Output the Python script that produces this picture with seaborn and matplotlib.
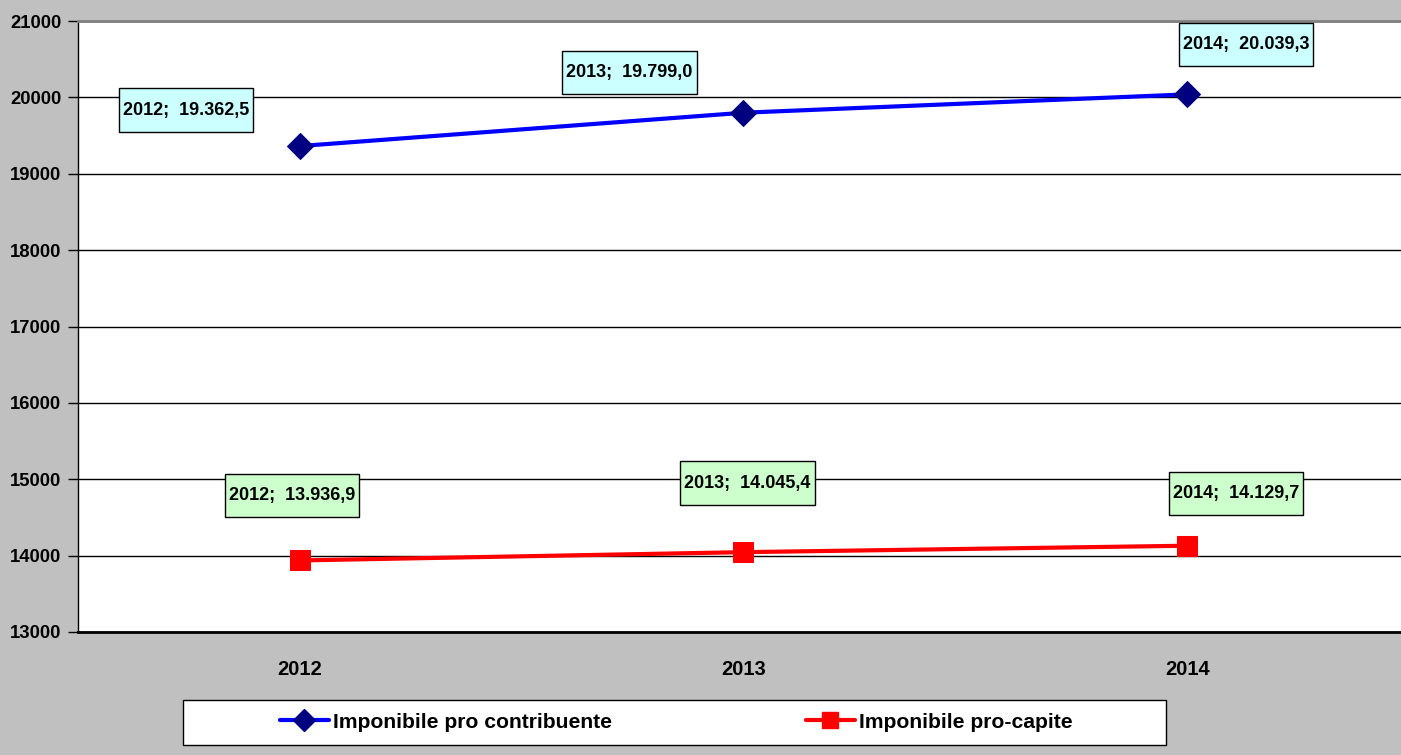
import pandas as pd
import matplotlib.pyplot as plt
import seaborn as sns
from matplotlib.lines import Line2D
from matplotlib.patches import Rectangle
from matplotlib.path import Path

# values
anni = ['2012', '2013', '2014']
pro_contribuente = [19362.5, 19799.0, 20039.3]
pro_capite = [13936.9, 14045.4, 14129.7]
y_ticks = [13000, 14000, 15000, 16000, 17000, 18000, 19000, 20000, 21000]

FONT = ['Liberation Sans', 'DejaVu Sans']


def fmt_it(v):
    s = f"{v:,.1f}"
    return s.replace(',', 'X').replace('.', ',').replace('X', '.')


# excel-like label box: little side padding, more on top/bottom
def label_box(x0, y0, width, height, mutation_size):
    px = 0.22 * mutation_size
    h = 2.4 * mutation_size
    cy = y0 + height / 2
    x1, x2 = x0 - px, x0 + width + px
    y1, y2 = cy - h / 2, cy + h / 2
    return Path([(x1, y1), (x2, y1), (x2, y2), (x1, y2), (x1, y1)], closed=True)


def main():
    sns.set_style('white')
    plt.rcParams['font.family'] = FONT
    plt.rcParams['font.weight'] = 'bold'
    plt.rcParams['text.color'] = 'black'
    plt.rcParams['xtick.color'] = 'black'
    plt.rcParams['ytick.color'] = 'black'
    plt.rcParams['xtick.labelcolor'] = 'black'
    plt.rcParams['ytick.labelcolor'] = 'black'

    df = pd.DataFrame({'pos': range(len(anni)), 'anno': anni,
                       'contribuente': pro_contribuente,
                       'capite': pro_capite})

    W, H = 1401, 755
    fig = plt.figure(figsize=(W / 100, H / 100), dpi=100, facecolor='#C0C0C0')
    ax = fig.add_axes([78 / W, (H - 632) / H, (W - 78) / W, (632 - 21) / H])
    ax.set_facecolor('white')

    sns.lineplot(data=df, x='pos', y='contribuente', ax=ax, color='#0000FF',
                 linewidth=3, marker='D', markersize=13,
                 markerfacecolor='#000080', markeredgecolor='#000080', zorder=3)
    sns.lineplot(data=df, x='pos', y='capite', ax=ax, color='#FF0000',
                 linewidth=3, marker='s', markersize=14,
                 markerfacecolor='#FF0000', markeredgecolor='#FF0000', zorder=3)

    ax.set_ylim(13000, 21000)
    ax.set_xlim(-0.5, 2.482)
    ax.set_yticks(y_ticks)
    ax.set_yticklabels([str(t) for t in y_ticks], fontsize=13.3, fontweight='bold')
    ax.set_xticks(df['pos'])
    ax.set_xticklabels(anni, fontsize=14.5, fontweight='bold')
    ax.set_xticks([0.5, 1.5], minor=True)
    ax.tick_params(axis='x', which='major', length=0, pad=20)
    ax.tick_params(axis='x', which='minor', length=7, width=1, color='black', direction='out')
    ax.tick_params(axis='y', length=7, width=1, color='black', direction='out', pad=5, left=True)
    ax.set_xlabel('')
    ax.set_ylabel('')
    ax.grid(axis='y', color='black', linewidth=1)
    ax.set_axisbelow(True)

    ax.spines['bottom'].set_color('black')
    ax.spines['bottom'].set_linewidth(2)
    ax.spines['left'].set_color('black')
    ax.spines['left'].set_linewidth(1)
    ax.spines['top'].set_color('#808080')
    ax.spines['top'].set_linewidth(2)
    ax.spines['right'].set_visible(False)

    # data labels
    off_blue = [(-114, 36), (-114, 40), (59, 50)]
    off_red = [(-8, 65), (4, 69), (49, 52)]
    for i, a in enumerate(anni):
        ax.annotate(f"{a};  {fmt_it(pro_contribuente[i])}", (i, pro_contribuente[i]),
                    xytext=off_blue[i], textcoords='offset pixels',
                    ha='center', va='center', fontsize=13, fontweight='bold',
                    bbox=dict(boxstyle=label_box, fc='#CCFFFF', ec='black', lw=1),
                    zorder=5)
        ax.annotate(f"{a};  {fmt_it(pro_capite[i])}", (i, pro_capite[i]),
                    xytext=off_red[i], textcoords='offset pixels',
                    ha='center', va='center', fontsize=13, fontweight='bold',
                    bbox=dict(boxstyle=label_box, fc='#CCFFCC', ec='black', lw=1),
                    zorder=5)

    # legend box
    fig.patches.append(Rectangle((183 / W, (H - 745) / H), 983 / W, 45 / H,
                                 transform=fig.transFigure, fc='white', ec='black', lw=1))
    handles = [
        Line2D([], [], color='#0000FF', lw=3, marker='D', markersize=11,
               markerfacecolor='#000080', markeredgecolor='#000080'),
        Line2D([], [], color='#FF0000', lw=3, marker='s', markersize=12,
               markerfacecolor='#FF0000', markeredgecolor='#FF0000'),
    ]
    fig.legend(handles, ['Imponibile pro contribuente', 'Imponibile pro-capite'],
               loc='center', bbox_to_anchor=(676 / W, (H - 722) / H), ncol=2,
               frameon=False, prop={'family': FONT, 'weight': 'bold', 'size': 15.2},
               labelcolor='black',
               handlelength=2.32, handletextpad=0.19, columnspacing=9.2)

    fig.savefig('out.png', dpi=100, facecolor=fig.get_facecolor())


if __name__ == '__main__':
    main()
